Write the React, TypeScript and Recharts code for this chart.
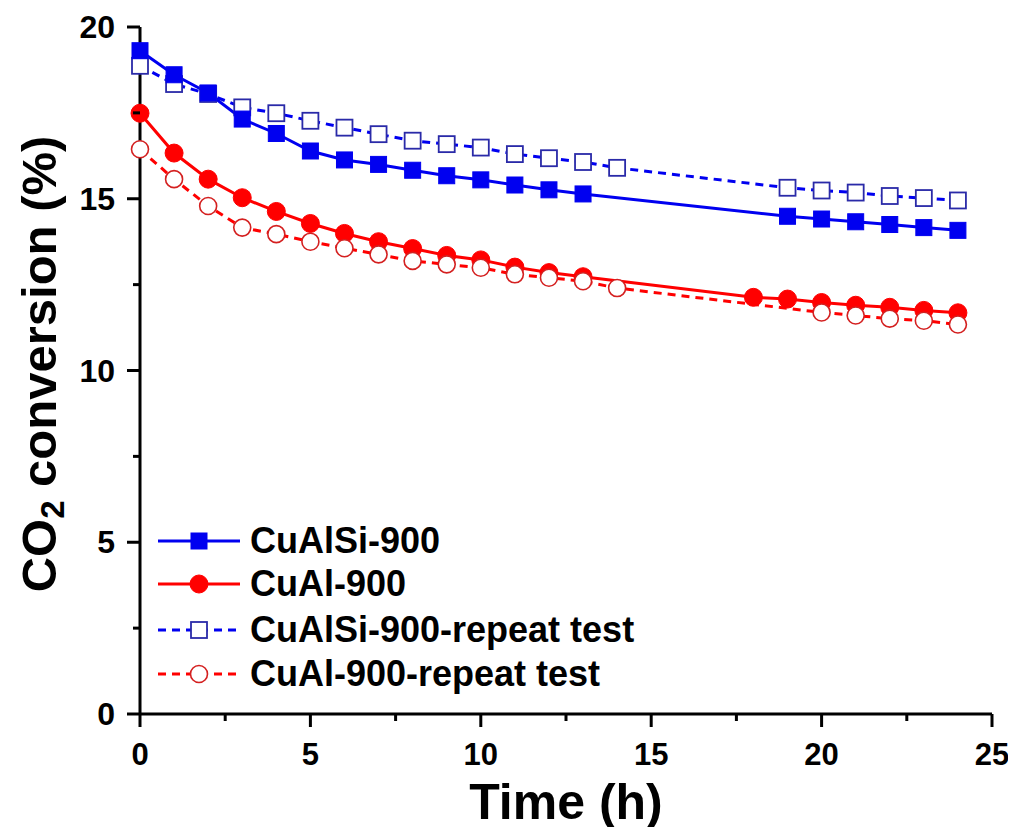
import { LineChart, Line, XAxis, YAxis } from "recharts";

const timeSi = [0, 1, 2, 3, 4, 5, 6, 7, 8, 9, 10, 11, 12, 13, 19, 20, 21, 22, 23, 24];
const cuAlSi = [19.31, 18.61, 18.08, 17.32, 16.9, 16.39, 16.13, 16.0, 15.83, 15.67, 15.55, 15.4, 15.26, 15.14, 14.49, 14.41, 14.33, 14.25, 14.16, 14.08];

const timeAl = [0, 1, 2, 3, 4, 5, 6, 7, 8, 9, 10, 11, 12, 13, 18, 19, 20, 21, 22, 23, 24];
const cuAl = [17.49, 16.33, 15.57, 15.03, 14.63, 14.28, 13.99, 13.75, 13.55, 13.35, 13.22, 13.01, 12.85, 12.73, 12.13, 12.08, 11.98, 11.9, 11.84, 11.75, 11.68];

const timeSiRep = [0, 1, 2, 3, 4, 5, 6, 7, 8, 9, 10, 11, 12, 13, 14, 19, 20, 21, 22, 23, 24];
const cuAlSiRep = [18.87, 18.34, 18.05, 17.66, 17.49, 17.27, 17.07, 16.88, 16.69, 16.59, 16.49, 16.3, 16.18, 16.07, 15.9, 15.32, 15.24, 15.18, 15.08, 15.02, 14.95];

const timeAlRep = [0, 1, 2, 3, 4, 5, 6, 7, 8, 9, 10, 11, 12, 13, 14, 20, 21, 22, 23, 24];
const cuAlRep = [16.44, 15.57, 14.79, 14.16, 13.97, 13.75, 13.56, 13.38, 13.19, 13.09, 12.99, 12.8, 12.7, 12.6, 12.4, 11.69, 11.6, 11.51, 11.45, 11.34];

const xTicks = [0, 2.5, 5, 7.5, 10, 12.5, 15, 17.5, 20, 22.5, 25];
const yTicks = [0, 2.5, 5, 7.5, 10, 12.5, 15, 17.5, 20];

const legendNames = ["CuAlSi-900", "CuAl-900", "CuAlSi-900-repeat test", "CuAl-900-repeat test"];

const toRows = (xs: number[], ys: number[]) => xs.map((t, i) => ({ t, y: ys[i] }));

const BLUE = "#0000f0";
const RED = "#ff0000";
const FONT = "'Liberation Sans', Arial, sans-serif";

const square = (filled: boolean) => (p: any) => (
  <rect
    key={`sq-${filled}-${p.index}`}
    x={p.cx - 8}
    y={p.cy - 8}
    width={16}
    height={16}
    fill={filled ? BLUE : "#fff"}
    stroke={filled ? BLUE : "#2a2aa8"}
    strokeWidth={filled ? 1 : 1.8}
  />
);

const circle = (filled: boolean) => (p: any) => (
  <circle
    key={`ci-${filled}-${p.index}`}
    cx={p.cx}
    cy={p.cy}
    r={filled ? 9 : 8.5}
    fill={filled ? RED : "#fff"}
    stroke={filled ? RED : "#d42020"}
    strokeWidth={filled ? 1 : 1.6}
  />
);

function XTick({ x, y, payload }: any) {
  const major = payload.value % 5 === 0;
  return (
    <g>
      <line x1={x} x2={x} y1={y} y2={y + (major ? 13 : 7)} stroke="#000" strokeWidth={3} />
      {major && (
        <text x={x} y={y + 51} textAnchor="middle" fontFamily={FONT} fontWeight="bold" fontSize={31} fill="#000">
          {payload.value}
        </text>
      )}
    </g>
  );
}

function YTick({ x, y, payload }: any) {
  const major = payload.value % 5 === 0;
  return (
    <g>
      <line x1={x - (major ? 13 : 7)} x2={x} y1={y} y2={y} stroke="#000" strokeWidth={3} />
      {major && (
        <text x={x - 25} y={y + 11} textAnchor="end" fontFamily={FONT} fontWeight="bold" fontSize={32} fill="#000">
          {payload.value}
        </text>
      )}
    </g>
  );
}

const XTitle = () => (
  <text x={566} y={819} textAnchor="middle" fontFamily={FONT} fontWeight="bold" fontSize={50} fill="#000">
    Time (h)
  </text>
);

const YTitle = () => (
  <text
    x={56}
    y={364}
    transform="rotate(-90 56 364)"
    textAnchor="middle"
    fontFamily={FONT}
    fontWeight="bold"
    fontSize={49}
    fill="#000"
  >
    CO
    <tspan fontSize={33} dy={8}>2</tspan>
    <tspan dy={-8}> conversion (%)</tspan>
  </text>
);

function LegendBox() {
  const rows = [
    { dash: undefined, color: BLUE, marker: "sq", filled: true },
    { dash: undefined, color: RED, marker: "ci", filled: true },
    { dash: "8 6", color: BLUE, marker: "sq", filled: false },
    { dash: "8 6", color: RED, marker: "ci", filled: false },
  ];
  const ys = [541, 584, 630, 674];
  return (
    <svg width={1016} height={835} style={{ position: "absolute", left: 0, top: 0, pointerEvents: "none" }}>
      {rows.map((r, i) => (
        <g key={legendNames[i]}>
          <line x1={158} x2={240} y1={ys[i]} y2={ys[i]} stroke={r.color} strokeWidth={3} strokeDasharray={r.dash} />
          {r.marker === "sq"
            ? square(r.filled)({ cx: 199, cy: ys[i], index: i })
            : circle(r.filled)({ cx: 199, cy: ys[i], index: i })}
          <text x={250} y={ys[i] + 12} fontFamily={FONT} fontWeight="bold" fontSize={36} fill="#000">
            {legendNames[i]}
          </text>
        </g>
      ))}
    </svg>
  );
}

export default function App() {
  return (
    <div style={{ position: "relative", width: 1016, height: 835, margin: -8, background: "#fff" }}>
      <LineChart width={1016} height={835} margin={{ top: 27, right: 24, bottom: 0, left: 0 }}>
        <XAxis
          dataKey="t"
          type="number"
          domain={[0, 25]}
          ticks={xTicks}
          interval={0}
          height={121}
          tickSize={0}
          tickMargin={0}
          tickLine={false}
          axisLine={{ stroke: "#000", strokeWidth: 3 }}
          tick={<XTick />}
          label={XTitle}
          allowDuplicatedCategory={false}
        />
        <XAxis xAxisId="top" orientation="top" type="number" domain={[0, 25]} height={0} tick={false} tickLine={false} axisLine={{ stroke: "#000", strokeWidth: 3 }} />
        <YAxis
          type="number"
          domain={[0, 20]}
          ticks={yTicks}
          interval={0}
          width={140}
          tickSize={0}
          tickMargin={0}
          tickLine={false}
          axisLine={{ stroke: "#000", strokeWidth: 3 }}
          tick={<YTick />}
          label={YTitle}
        />
        <YAxis yAxisId="right" orientation="right" type="number" domain={[0, 20]} width={0} tick={false} tickLine={false} axisLine={{ stroke: "#000", strokeWidth: 3 }} />
        <Line
          data={toRows(timeSiRep, cuAlSiRep)}
          dataKey="y"
          type="linear"
          stroke={BLUE}
          strokeWidth={3}
          strokeDasharray="8 6"
          dot={square(false)}
          activeDot={false}
          isAnimationActive={false}
        />
        <Line
          data={toRows(timeSi, cuAlSi)}
          dataKey="y"
          type="linear"
          stroke={BLUE}
          strokeWidth={3}
          dot={square(true)}
          activeDot={false}
          isAnimationActive={false}
        />
        <Line
          data={toRows(timeAl, cuAl)}
          dataKey="y"
          type="linear"
          stroke={RED}
          strokeWidth={3}
          dot={circle(true)}
          activeDot={false}
          isAnimationActive={false}
        />
        <Line
          data={toRows(timeAlRep, cuAlRep)}
          dataKey="y"
          type="linear"
          stroke={RED}
          strokeWidth={3}
          strokeDasharray="8 6"
          dot={circle(false)}
          activeDot={false}
          isAnimationActive={false}
        />
      </LineChart>
      <LegendBox />
    </div>
  );
}
